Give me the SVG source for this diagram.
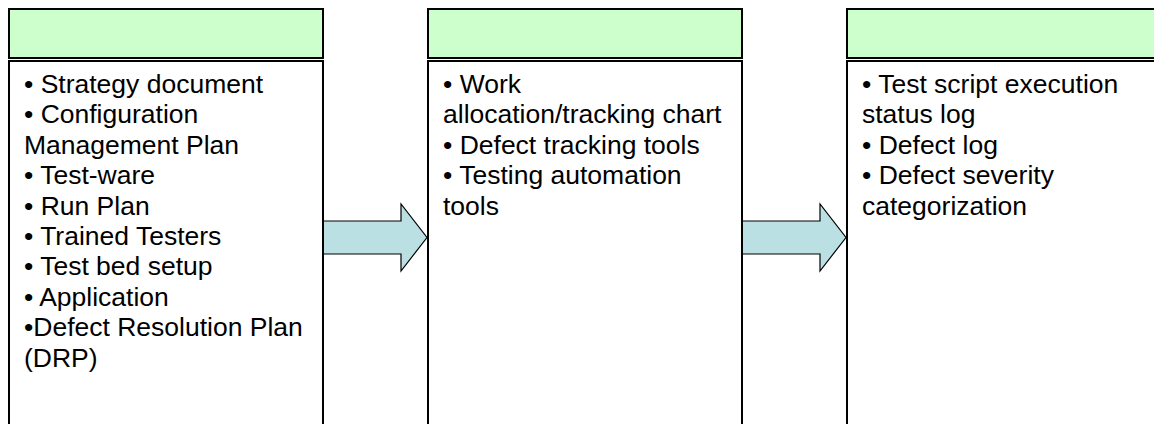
<svg xmlns="http://www.w3.org/2000/svg" width="1154" height="424" viewBox="0 0 1154 424">
  <style>
    .head { fill: #CCFFCC; stroke: #000; stroke-width: 2; }
    .body { fill: #FFFFFF; stroke: #000; stroke-width: 2; }
    .arrow { fill: #BBE0E3; stroke: #000; stroke-width: 1.2; stroke-linejoin: miter; }
    .txt { font-family: "Liberation Sans", Arial, sans-serif; font-size: 26.5px; fill: #000; }
  </style>

  <!-- block arrows between the stages (drawn first so box borders sit on top) -->
  <g id="connectors">
    <polygon class="arrow" points="321,221 401,221 401,204 427,237.5 401,271 401,254 321,254"/>
    <polygon class="arrow" points="740,221 820,221 820,204 846,237.5 820,271 820,254 740,254"/>
  </g>

  <!-- stage 1 -->
  <g id="stage-inputs">
    <rect class="head" x="9" y="9" width="314" height="49"/>
    <rect class="body" x="9" y="61" width="314" height="380"/>
    <text class="txt">
      <tspan x="24" y="93">• Strategy document</tspan>
      <tspan x="24" y="123.4">• Configuration</tspan>
      <tspan x="24" y="153.8">Management Plan</tspan>
      <tspan x="24" y="184.2">• Test-ware</tspan>
      <tspan x="24" y="214.6">• Run Plan</tspan>
      <tspan x="24" y="245">• Trained Testers</tspan>
      <tspan x="24" y="275.4">• Test bed setup</tspan>
      <tspan x="24" y="305.8">• Application</tspan>
      <tspan x="24" y="336.2">•Defect Resolution Plan</tspan>
      <tspan x="24" y="366.6">(DRP)</tspan>
    </text>
  </g>

  <!-- stage 2 -->
  <g id="stage-tools">
    <rect class="head" x="428" y="9" width="314" height="49"/>
    <rect class="body" x="428" y="61" width="314" height="380"/>
    <text class="txt">
      <tspan x="443" y="93">• Work</tspan>
      <tspan x="443" y="123.4">allocation/tracking chart</tspan>
      <tspan x="443" y="153.8">• Defect tracking tools</tspan>
      <tspan x="443" y="184.2">• Testing automation</tspan>
      <tspan x="443" y="214.6">tools</tspan>
    </text>
  </g>

  <!-- stage 3 -->
  <g id="stage-outputs">
    <rect class="head" x="847" y="9" width="330" height="49"/>
    <rect class="body" x="847" y="61" width="330" height="380"/>
    <text class="txt">
      <tspan x="862" y="93">• Test script execution</tspan>
      <tspan x="862" y="123.4">status log</tspan>
      <tspan x="862" y="153.8">• Defect log</tspan>
      <tspan x="862" y="184.2">• Defect severity</tspan>
      <tspan x="862" y="214.6">categorization</tspan>
    </text>
  </g>
</svg>
